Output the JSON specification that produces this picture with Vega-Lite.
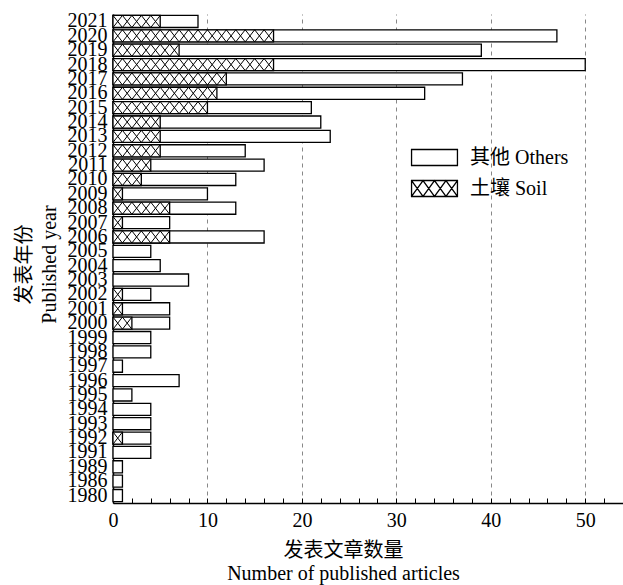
{
  "$schema": "https://vega.github.io/schema/vega-lite/v6.json",
  "width": 510,
  "height": 489,
  "autosize": {"type": "none"},
  "padding": {"left": 113, "top": 14, "right": 0, "bottom": 82},
  "background": "white",
  "config": {"view": {"stroke": null}, "font": "Liberation Serif"},
  "data": {
    "values": [
      {"year": 2021, "total": 9, "soil": 5},
      {"year": 2020, "total": 47, "soil": 17},
      {"year": 2019, "total": 39, "soil": 7},
      {"year": 2018, "total": 50, "soil": 17},
      {"year": 2017, "total": 37, "soil": 12},
      {"year": 2016, "total": 33, "soil": 11},
      {"year": 2015, "total": 21, "soil": 10},
      {"year": 2014, "total": 22, "soil": 5},
      {"year": 2013, "total": 23, "soil": 5},
      {"year": 2012, "total": 14, "soil": 5},
      {"year": 2011, "total": 16, "soil": 4},
      {"year": 2010, "total": 13, "soil": 3},
      {"year": 2009, "total": 10, "soil": 1},
      {"year": 2008, "total": 13, "soil": 6},
      {"year": 2007, "total": 6, "soil": 1},
      {"year": 2006, "total": 16, "soil": 6},
      {"year": 2005, "total": 4, "soil": 0},
      {"year": 2004, "total": 5, "soil": 0},
      {"year": 2003, "total": 8, "soil": 0},
      {"year": 2002, "total": 4, "soil": 1},
      {"year": 2001, "total": 6, "soil": 1},
      {"year": 2000, "total": 6, "soil": 2},
      {"year": 1999, "total": 4, "soil": 0},
      {"year": 1998, "total": 4, "soil": 0},
      {"year": 1997, "total": 1, "soil": 0},
      {"year": 1996, "total": 7, "soil": 0},
      {"year": 1995, "total": 2, "soil": 0},
      {"year": 1994, "total": 4, "soil": 0},
      {"year": 1993, "total": 4, "soil": 0},
      {"year": 1992, "total": 4, "soil": 1},
      {"year": 1991, "total": 4, "soil": 0},
      {"year": 1989, "total": 1, "soil": 0},
      {"year": 1986, "total": 1, "soil": 0},
      {"year": 1980, "total": 1, "soil": 0}
    ]
  },
  "transform": [{"fold": ["total", "soil"], "as": ["series", "value"]}],
  "encoding": {
    "y": {
      "field": "year",
      "type": "ordinal",
      "sort": "descending",
      "scale": {"paddingInner": 0.16, "paddingOuter": 0.1},
      "axis": {
        "title": ["发表年份", "Published year"],
        "titleFont": "Liberation Serif, Noto Sans CJK SC",
        "titleFontSize": 20,
        "titleFontWeight": "normal",
        "titleColor": "black",
        "titleLineHeight": 25,
        "titlePadding": 8,
        "titleY": 250,
        "labelFont": "Liberation Serif",
        "labelFontSize": 20,
        "labelColor": "black",
        "labelPadding": 6,
        "labelOverlap": false,
        "ticks": false,
        "domainColor": "black",
        "domainWidth": 1.5
      }
    },
    "x": {
      "field": "value",
      "type": "quantitative",
      "scale": {"domain": [0, 54], "nice": false},
      "axis": {
        "title": ["发表文章数量", "Number of published articles"],
        "titleFont": "Liberation Serif, Noto Sans CJK SC",
        "titleFontSize": 20,
        "titleFontWeight": "normal",
        "titleColor": "black",
        "titleLineHeight": 23,
        "titlePadding": 10,
        "titleX": 230,
        "values": [0, 2, 4, 6, 8, 10, 12, 14, 16, 18, 20, 22, 24, 26, 28, 30, 32, 34, 36, 38, 40, 42, 44, 46, 48, 50, 52],
        "labelExpr": "datum.value % 10 === 0 ? datum.label : ''",
        "labelFont": "Liberation Serif",
        "labelFontSize": 20,
        "labelColor": "black",
        "labelPadding": 12,
        "labelOverlap": false,
        "labelFlush": false,
        "tickSize": -5,
        "tickColor": "black",
        "tickWidth": 1,
        "domainColor": "black",
        "domainWidth": 1.5,
        "grid": true,
        "gridColor": "#888888",
        "gridDash": [4, 4],
        "gridWidth": 1,
        "gridOpacity": {"condition": {"test": "datum.value % 10 === 0 && datum.value > 0", "value": 1}, "value": 0}
      }
    }
  },
  "layer": [
    {
      "transform": [{"filter": "datum.series === 'total'"}],
      "mark": {"type": "bar", "stroke": "black", "strokeWidth": 1.3},
      "encoding": {
        "fill": {
          "datum": "其他 Others",
          "scale": {"domain": ["其他 Others", "土壤 Soil"], "range": ["white", "white"]},
          "legend": {
            "title": null,
            "orient": "none",
            "legendX": 311.5,
            "legendY": 133.5,
            "padding": 0,
            "rowPadding": 9,
            "symbolSize": 289,
            "symbolType": "M-2.7,-0.94L2.7,-0.94L2.7,0.94L-2.7,0.94Z",
            "symbolStrokeColor": "black",
            "symbolStrokeWidth": 1.3,
            "symbolOpacity": 1,
            "labelFont": "Liberation Serif, Noto Sans CJK SC",
            "labelFontSize": 20,
            "labelColor": "black",
            "labelOffset": 25.5,
            "encode": {
              "symbols": {
                "update": {
                  "shape": {"signal": "datum.value === '土壤 Soil' ? 'M-2.7,-0.94L2.7,-0.94L2.7,0.94L-2.7,0.94ZM-2.7,-0.94L-1.35,0.94L0,-0.94L1.35,0.94L2.7,-0.94M-2.7,0.94L-1.35,-0.94L0,0.94L1.35,-0.94L2.7,0.94' : 'M-2.7,-0.94L2.7,-0.94L2.7,0.94L-2.7,0.94Z'"}
                }
              }
            }
          }
        }
      }
    },
    {
      "transform": [{"filter": "datum.series === 'soil' && datum.value > 0"}],
      "mark": {"type": "bar", "stroke": "black", "strokeWidth": 1.3},
      "encoding": {
        "fill": {"datum": "土壤 Soil"}
      }
    },
    {
      "transform": [{"filter": "datum.series === 'soil' && datum.value > 0"}],
      "mark": {"type": "point", "filled": false, "size": 356.79, "stroke": "black", "strokeWidth": 1, "opacity": 1},
      "encoding": {
        "shape": {
          "field": "value",
          "type": "nominal",
          "legend": null,
          "scale": {
            "domain": [1, 2, 3, 4, 5, 6, 7, 10, 11, 12, 17],
            "range": [
              "M-1,-0.64L0,0.64M-1,0.64L0,-0.64",
              "M-2,-0.64L-1,0.64L0,-0.64M-2,0.64L-1,-0.64L0,0.64",
              "M-3,-0.64L-2,0.64L-1,-0.64L0,0.64M-3,0.64L-2,-0.64L-1,0.64L0,-0.64",
              "M-4,-0.64L-3,0.64L-2,-0.64L-1,0.64L0,-0.64M-4,0.64L-3,-0.64L-2,0.64L-1,-0.64L0,0.64",
              "M-5,-0.64L-4,0.64L-3,-0.64L-2,0.64L-1,-0.64L0,0.64M-5,0.64L-4,-0.64L-3,0.64L-2,-0.64L-1,0.64L0,-0.64",
              "M-6,-0.64L-5,0.64L-4,-0.64L-3,0.64L-2,-0.64L-1,0.64L0,-0.64M-6,0.64L-5,-0.64L-4,0.64L-3,-0.64L-2,0.64L-1,-0.64L0,0.64",
              "M-7,-0.64L-6,0.64L-5,-0.64L-4,0.64L-3,-0.64L-2,0.64L-1,-0.64L0,0.64M-7,0.64L-6,-0.64L-5,0.64L-4,-0.64L-3,0.64L-2,-0.64L-1,0.64L0,-0.64",
              "M-10,-0.64L-9,0.64L-8,-0.64L-7,0.64L-6,-0.64L-5,0.64L-4,-0.64L-3,0.64L-2,-0.64L-1,0.64L0,-0.64M-10,0.64L-9,-0.64L-8,0.64L-7,-0.64L-6,0.64L-5,-0.64L-4,0.64L-3,-0.64L-2,0.64L-1,-0.64L0,0.64",
              "M-11,-0.64L-10,0.64L-9,-0.64L-8,0.64L-7,-0.64L-6,0.64L-5,-0.64L-4,0.64L-3,-0.64L-2,0.64L-1,-0.64L0,0.64M-11,0.64L-10,-0.64L-9,0.64L-8,-0.64L-7,0.64L-6,-0.64L-5,0.64L-4,-0.64L-3,0.64L-2,-0.64L-1,0.64L0,-0.64",
              "M-12,-0.64L-11,0.64L-10,-0.64L-9,0.64L-8,-0.64L-7,0.64L-6,-0.64L-5,0.64L-4,-0.64L-3,0.64L-2,-0.64L-1,0.64L0,-0.64M-12,0.64L-11,-0.64L-10,0.64L-9,-0.64L-8,0.64L-7,-0.64L-6,0.64L-5,-0.64L-4,0.64L-3,-0.64L-2,0.64L-1,-0.64L0,0.64",
              "M-17,-0.64L-16,0.64L-15,-0.64L-14,0.64L-13,-0.64L-12,0.64L-11,-0.64L-10,0.64L-9,-0.64L-8,0.64L-7,-0.64L-6,0.64L-5,-0.64L-4,0.64L-3,-0.64L-2,0.64L-1,-0.64L0,0.64M-17,0.64L-16,-0.64L-15,0.64L-14,-0.64L-13,0.64L-12,-0.64L-11,0.64L-10,-0.64L-9,0.64L-8,-0.64L-7,0.64L-6,-0.64L-5,0.64L-4,-0.64L-3,0.64L-2,-0.64L-1,0.64L0,-0.64"
            ]
          }
        }
      }
    }
  ]
}
